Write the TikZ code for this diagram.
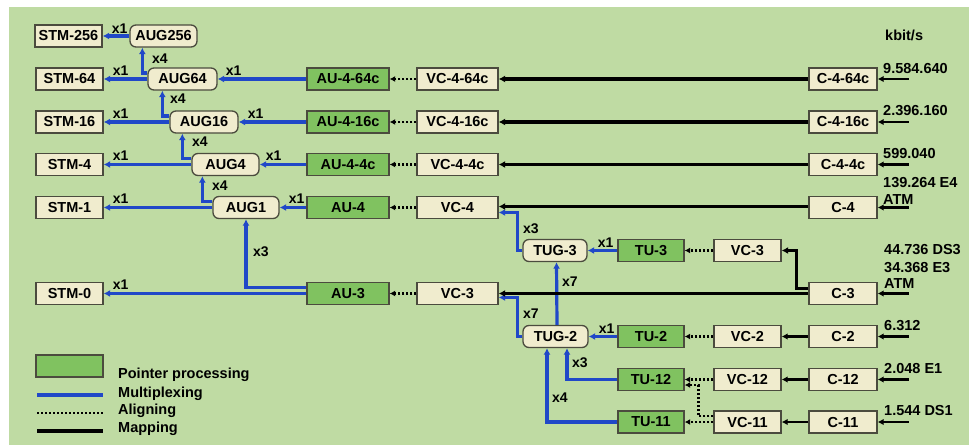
\documentclass[tikz,border=0pt]{standalone}
\usepackage{fontspec}
\setmainfont{Liberation Sans}
\usetikzlibrary{arrows.meta,calc}
\definecolor{bg}{RGB}{191,219,163}
\definecolor{ptgreen}{RGB}{128,194,96}
\definecolor{cream}{RGB}{240,236,206}
\definecolor{edgecol}{RGB}{75,75,62}
\definecolor{muxblue}{RGB}{32,72,200}
\begin{document}
\begin{tikzpicture}[x=1pt,y=-1pt,
  box/.style={draw=edgecol, line width=1.3pt, fill=cream, minimum height=22pt, inner sep=0pt,
    font=\fontsize{14.5}{16}\selectfont\bfseries},
  gbox/.style={box, fill=ptgreen},
  rbox/.style={box, rounded corners=6pt},
  lbl/.style={inner sep=0pt, anchor=base west, font=\fontsize{14}{16}\selectfont\bfseries},
  mlbl/.style={inner sep=0pt, anchor=west, font=\fontsize{14}{16}\selectfont\bfseries},
  rate/.style={inner sep=0pt, anchor=base west, font=\fontsize{14.5}{16}\selectfont\bfseries},
  mux/.style={draw=muxblue, line width=3.2pt, -{Latex[length=6.5pt,width=7pt]}},
  alignline/.style={draw=black, line width=2.4pt, dash pattern=on 2.4pt off 1.6pt, -{Latex[length=5.5pt,width=6pt]}},
  mapline/.style={draw=black, line width=3.2pt, -{Latex[length=6.5pt,width=7pt]}},
  mapthin/.style={draw=black, line width=2.3pt, -{Latex[length=6pt,width=6.5pt]}},
]
\useasboundingbox (0,0) rectangle (969,445);
\fill[bg] (9,7) rectangle (969,445);

% STM / AUG column
\node[box, minimum width=67pt] (stm256) at (68.5,36) {STM-256};
\node[rbox, minimum width=67pt] (aug256) at (163.5,36) {AUG256};
\node[box, minimum width=67pt] (stm64) at (69.5,79) {STM-64};
\node[rbox, minimum width=69pt] (aug64) at (182.5,79) {AUG64};
\node[box, minimum width=67pt] (stm16) at (69.5,122) {STM-16};
\node[rbox, minimum width=68pt] (aug16) at (204,122) {AUG16};
\node[box, minimum width=67pt] (stm4) at (69.5,164.5) {STM-4};
\node[rbox, minimum width=67pt] (aug4) at (225.5,164.5) {AUG4};
\node[box, minimum width=67pt] (stm1) at (69.5,207.5) {STM-1};
\node[rbox, minimum width=66pt] (aug1) at (246,207.5) {AUG1};
\node[box, minimum width=67pt] (stm0) at (69.5,293.5) {STM-0};

% AU / VC-4 column
\node[gbox, minimum width=82pt] (au464) at (348,79) {AU-4-64c};
\node[box, minimum width=81pt] (vc464) at (457.5,79) {VC-4-64c};
\node[gbox, minimum width=82pt] (au416) at (348,122) {AU-4-16c};
\node[box, minimum width=81pt] (vc416) at (457.5,122) {VC-4-16c};
\node[gbox, minimum width=82pt] (au44) at (348,164.5) {AU-4-4c};
\node[box, minimum width=81pt] (vc44) at (457.5,164.5) {VC-4-4c};
\node[gbox, minimum width=82pt] (au4) at (348,207.5) {AU-4};
\node[box, minimum width=81pt] (vc4) at (457.5,207.5) {VC-4};
\node[gbox, minimum width=82pt] (au3) at (348,293.5) {AU-3};
\node[box, minimum width=81pt] (vc3) at (457.5,293.5) {VC-3};

% TUG
\node[rbox, minimum width=64pt] (tug3) at (555,250.5) {TUG-3};
\node[rbox, minimum width=65pt] (tug2) at (555.5,336.5) {TUG-2};

% TU / VC / C lower
\node[gbox, minimum width=66pt] (tu3) at (651,250.5) {TU-3};
\node[box, minimum width=67pt] (vc3r) at (747.5,250.5) {VC-3};
\node[gbox, minimum width=66pt] (tu2) at (651,336.5) {TU-2};
\node[box, minimum width=67pt] (vc2) at (747.5,336.5) {VC-2};
\node[gbox, minimum width=66pt] (tu12) at (651,379.5) {TU-12};
\node[box, minimum width=67pt] (vc12) at (747.5,379.5) {VC-12};
\node[gbox, minimum width=66pt] (tu11) at (651,422) {TU-11};
\node[box, minimum width=67pt] (vc11) at (747.5,422) {VC-11};

% C column
\node[box, minimum width=68pt] (c464) at (843,79) {C-4-64c};
\node[box, minimum width=68pt] (c416) at (843,122) {C-4-16c};
\node[box, minimum width=68pt] (c44) at (843,164.5) {C-4-4c};
\node[box, minimum width=68pt] (c4) at (843,207.5) {C-4};
\node[box, minimum width=68pt] (c3) at (843,293.5) {C-3};
\node[box, minimum width=68pt] (c2) at (843,336.5) {C-2};
\node[box, minimum width=68pt] (c12) at (843,379.5) {C-12};
\node[box, minimum width=68pt] (c11) at (843,422) {C-11};

% Multiplexing
\draw[mux] (aug256.west) -- (stm256.east);
\draw[mux] (aug64.west) -- (stm64.east);
\draw[mux] (aug16.west) -- (stm16.east);
\draw[mux] (aug4.west) -- (stm4.east);
\draw[mux] (aug1.west) -- (stm1.east);
\draw[mux] (au464.west) -- (aug64.east);
\draw[mux] (au416.west) -- (aug16.east);
\draw[mux] (au44.west) -- (aug4.east);
\draw[mux] (au4.west) -- (aug1.east);
\draw[mux] ([yshift=6pt]aug64.west) -| ([xshift=13pt]aug256.south west);
\draw[mux] ([yshift=6pt]aug16.west) -| ([xshift=15pt]aug64.south west);
\draw[mux] ([yshift=6pt]aug4.west) -| ([xshift=13pt]aug16.south west);
\draw[mux] ([yshift=6pt]aug1.west) -| ([xshift=11pt]aug4.south west);
\draw[mux] (au3.west) -- (stm0.east);
\draw[mux] ([yshift=6pt]au3.west) -| (aug1.south);
\draw[mux] (tug3.west) -- ++(-5,0) |- ([yshift=-5pt]vc4.east);
\draw[mux] (tug2.west) -- ++(-5,0) |- ([yshift=-4pt]vc3.east);
\draw[mux] ([xshift=1.5pt]tug2.north) -- ([xshift=1.5pt]tug3.south);
\draw[mux] (tu3.west) -- (tug3.east);
\draw[mux] (tu2.west) -- (tug2.east);
\draw[mux] (tu12.west) -| ([xshift=11.5pt]tug2.south);
\draw[mux] (tu11.west) -| ([xshift=-8.5pt]tug2.south);

% Aligning
\draw[alignline] (vc464.west) -- (au464.east);
\draw[alignline] (vc416.west) -- (au416.east);
\draw[alignline] (vc44.west) -- (au44.east);
\draw[alignline] (vc4.west) -- (au4.east);
\draw[alignline] (vc3.west) -- (au3.east);
\draw[alignline] (vc3r.west) -- (tu3.east);
\draw[alignline] (vc2.west) -- (tu2.east);
\draw[alignline] (vc12.west) -- (tu12.east);
\draw[alignline] (vc11.west) -- (tu11.east);
\draw[alignline] ([yshift=6pt]vc11.west) -- ++(-15,0) |- ([yshift=-5.5pt]tu12.east);

% Mapping
\draw[mapline] (c464.west) -- (vc464.east);
\draw[mapline] (c416.west) -- (vc416.east);
\draw[mapline] (c44.west) -- (vc44.east);
\draw[mapline] ([yshift=1pt]c4.west) -- ([yshift=1pt]vc4.east);
\draw[mapline] (c3.west) -- (vc3.east);
\draw[mapline] ([yshift=5pt]c3.west) -- ++(-12,0) |- (vc3r.east);
\draw[mapthin] (c2.west) -- (vc2.east);
\draw[mapthin] (c12.west) -- (vc12.east);
\draw[mapthin] (c11.west) -- (vc11.east);
\foreach \c in {c464,c416,c44,c4,c3,c2,c12,c11}
  \draw[mapthin] ([xshift=31pt]\c.east) -- (\c.east);

% multiplicity labels
\node[lbl] (m1) at ([xshift=9pt,yshift=3pt]stm256.east) {x1};
\node[lbl] (m2) at ([xshift=9pt,yshift=4pt]stm64.east) {x1};
\node[lbl] (m3) at ([xshift=9pt,yshift=4pt]stm16.east) {x1};
\node[lbl] (m4) at ([xshift=9pt,yshift=4pt]stm4.east) {x1};
\node[lbl] (m5) at ([xshift=9pt,yshift=4pt]stm1.east) {x1};
\node[lbl] (m6) at ([xshift=9pt,yshift=4pt]stm0.east) {x1};
\node[lbl] (m7) at ([xshift=8pt,yshift=4pt]aug64.east) {x1};
\node[lbl] (m8) at ([xshift=9pt,yshift=4pt]aug16.east) {x1};
\node[lbl] (m9) at ([xshift=6pt,yshift=4pt]aug4.east) {x1};
\node[lbl] (m10) at ([xshift=9pt,yshift=4pt]aug1.east) {x1};
\node[lbl] (m11) at ([xshift=10pt,yshift=3pt]tug3.east) {x1};
\node[lbl] (m12) at ([xshift=10pt,yshift=3pt]tug2.east) {x1};
\node[mlbl] (n1) at (152,59) {x4};
\node[mlbl] (n2) at (170,99) {x4};
\node[mlbl] (n3) at (192,142) {x4};
\node[mlbl] (n4) at (212,186) {x4};
\node[mlbl] (n5) at (253,252) {x3};
\node[mlbl] (n6) at (523,229) {x3};
\node[mlbl] (n7) at (523,314) {x7};
\node[mlbl] (n8) at (562,282) {x7};
\node[mlbl] (n9) at (572,363) {x3};
\node[mlbl] (n10) at (552,398) {x4};

% rates
\node[rate] (r0) at (885,40) {kbit/s};
\node[rate] (r1) at (883,73) {9.584.640};
\node[rate] (r2) at (883,115) {2.396.160};
\node[rate] (r3) at (883,158) {599.040};
\node[rate] (r4) at (883,187) {139.264 E4};
\node[rate] (r5) at (883,204) {ATM};
\node[rate] (r6) at (884,254) {44.736 DS3};
\node[rate] (r7) at (884,272) {34.368 E3};
\node[rate] (r8) at (884,288) {ATM};
\node[rate] (r9) at (884,330) {6.312};
\node[rate] (r10) at (884,373) {2.048 E1};
\node[rate] (r11) at (884,415) {1.544 DS1};

% legend
\node[gbox, minimum width=67pt] (lg) at (69.5,366) {};
\draw[draw=muxblue, line width=3.2pt] (37,395) -- (103,395);
\draw[draw=black, line width=2.4pt, dash pattern=on 2.4pt off 1.6pt] (37,413) -- (103,413);
\draw[draw=black, line width=3.4pt] (37,431) -- (103,431);
\node[rate] (t1) at (118,378) {Pointer processing};
\node[rate] (t2) at (118,397) {Multiplexing};
\node[rate] (t3) at (118,414) {Aligning};
\node[rate] (t4) at (118,432) {Mapping};
\end{tikzpicture}
\end{document}
